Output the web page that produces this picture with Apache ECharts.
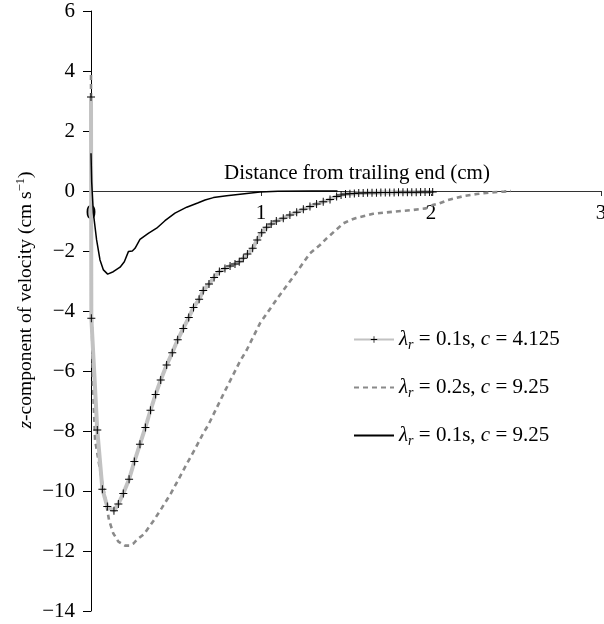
<!DOCTYPE html>
<html><head><meta charset="utf-8">
<script src="https://cdn.jsdelivr.net/npm/echarts@6/dist/echarts.min.js"></script>
<style>html,body{margin:0;padding:0;background:#fff}#c{width:604px;height:624px}</style>
</head><body><div id="c"></div>
<script>
// ---- data ----
const xTicks = [0, 1, 2, 3];
const xTickLabels = ['0', '1', '2', '3'];
const yTicks = [-14, -12, -10, -8, -6, -4, -2, 0, 2, 4, 6];
const yTickLabels = ['\u221214', '\u221212', '\u221210', '\u22128', '\u22126', '\u22124', '\u22122', '0', '2', '4', '6'];
const seriesNames = ['λr = 0.1s, c = 4.125', 'λr = 0.2s, c = 9.25', 'λr = 0.1s, c = 9.25'];
const legendLabels = ['{i|λ}{sub|r} = 0.1s, {i|c} = 4.125', '{i|λ}{sub|r} = 0.2s, {i|c} = 9.25', '{i|λ}{sub|r} = 0.1s, {i|c} = 9.25'];
const xAxisTitle = 'Distance from trailing end (cm)';
const yAxisTitle = '{i|z}-component of velocity (cm s{sup|\u22121})';

// λr = 0.1s, c = 4.125 (grey line with + markers)
const s1 = [
  [0, 3.13], [0.002, -4.24], [0.037, -7.97], [0.067, -9.94], [0.096, -10.52], [0.135, -10.66],
  [0.161, -10.43], [0.19, -10.08], [0.224, -9.61], [0.255, -9.02], [0.288, -8.44], [0.32, -7.88],
  [0.35, -7.31], [0.38, -6.78], [0.41, -6.3], [0.445, -5.8], [0.478, -5.39], [0.51, -4.96],
  [0.543, -4.58], [0.575, -4.22], [0.603, -3.88], [0.636, -3.61], [0.66, -3.32], [0.694, -3.1],
  [0.724, -2.88], [0.755, -2.68], [0.788, -2.58], [0.818, -2.5], [0.847, -2.43], [0.872, -2.36],
  [0.896, -2.24], [0.92, -2.1], [0.951, -1.91], [0.978, -1.63], [1.004, -1.39], [1.033, -1.21],
  [1.06, -1.1], [1.09, -1.0], [1.131, -0.91], [1.17, -0.8], [1.21, -0.71], [1.249, -0.61],
  [1.288, -0.52], [1.327, -0.43], [1.366, -0.36], [1.406, -0.28], [1.445, -0.18], [1.471, -0.13],
  [1.497, -0.1], [1.523, -0.09], [1.549, -0.08], [1.575, -0.07], [1.601, -0.07], [1.627, -0.06],
  [1.653, -0.06], [1.679, -0.06], [1.705, -0.05], [1.731, -0.05], [1.757, -0.05], [1.783, -0.05],
  [1.809, -0.04], [1.835, -0.04], [1.861, -0.04], [1.887, -0.04], [1.913, -0.04], [1.939, -0.03],
  [1.965, -0.03], [1.991, -0.03], [2.01, -0.03]
];
// λr = 0.2s, c = 9.25 (grey dashed)
const s2 = [
  [0, 3.87], [0.004, -4.0], [0.012, -6.5], [0.024, -8.3], [0.063, -9.63], [0.086, -10.3],
  [0.106, -10.97], [0.131, -11.41], [0.161, -11.69], [0.2, -11.82], [0.225, -11.82], [0.25, -11.75],
  [0.274, -11.6], [0.31, -11.45], [0.367, -11.0], [0.416, -10.57], [0.47, -10.08], [0.514, -9.62],
  [0.563, -9.1], [0.612, -8.6], [0.66, -8.08], [0.69, -7.8], [0.778, -6.78], [0.876, -5.68],
  [0.916, -5.3], [0.994, -4.41], [1.1, -3.55], [1.19, -2.86], [1.288, -2.08], [1.347, -1.8],
  [1.386, -1.58], [1.484, -1.08], [1.524, -0.97], [1.56, -0.9], [1.66, -0.76], [1.78, -0.69],
  [1.896, -0.63], [1.97, -0.58], [2.01, -0.47], [2.05, -0.41], [2.1, -0.3], [2.2, -0.16],
  [2.27, -0.1], [2.35, -0.05], [2.43, -0.02], [2.47, 0]
];
// λr = 0.1s, c = 9.25 (black solid)
const s3 = [
  [0, 1.26], [0.004, 0.3], [0.014, -0.74], [0.033, -1.63], [0.053, -2.3], [0.073, -2.63],
  [0.098, -2.77], [0.131, -2.69], [0.171, -2.54], [0.196, -2.36], [0.22, -2.02], [0.243, -2.0],
  [0.259, -1.91], [0.288, -1.61], [0.337, -1.41], [0.386, -1.24], [0.435, -0.99], [0.494, -0.74],
  [0.563, -0.54], [0.631, -0.39], [0.671, -0.3], [0.72, -0.22], [0.798, -0.16], [0.916, -0.08],
  [0.994, -0.03], [1.1, -0.01], [1.3, 0], [1.45, 0]
];

// ---- chart ----
const FONT = 'Liberation Serif';
const plusPath = 'path://M0,4.4H10V5.6H0Z M4.4,0H5.6V10H4.4Z';
const chart = echarts.init(document.getElementById('c'), null, {renderer: 'canvas'});
const gridTop = 11, gridBottom = 13, yMin = -14, yMax = 6;
// place the x axis on the y = 0 line (offset from the grid's bottom edge)
const plotH = 624 - gridTop - gridBottom;
const xAxisOffset = -plotH * (0 - yMin) / (yMax - yMin);
chart.setOption({
  animation: false,
  backgroundColor: '#fff',
  grid: {left: 91, right: 3, top: gridTop, bottom: gridBottom, containLabel: false, outerBoundsMode: 'none'},
  legend: {
    data: [
      {name: seriesNames[0]},
      {name: seriesNames[1], itemStyle: {opacity: 0}},
      {name: seriesNames[2], itemStyle: {opacity: 0}}
    ],
    orient: 'vertical',
    left: 348, top: 324,
    itemWidth: 40, itemHeight: 8, itemGap: 25,
    formatter: name => legendLabels[seriesNames.indexOf(name)],
    textStyle: {
      fontFamily: FONT, fontSize: 21, color: '#000',
      rich: {
        i: {fontFamily: FONT, fontSize: 21, fontStyle: 'italic', color: '#000'},
        sub: {fontFamily: FONT, fontSize: 14, fontStyle: 'italic', color: '#000', padding: [11, 0, 0, 0]}
      }
    }
  },
  xAxis: {
    type: 'value', min: 0, max: 3, interval: 1, position: 'bottom', offset: xAxisOffset,
    name: xAxisTitle, nameLocation: 'middle', nameGap: -28, nameMoveOverlap: false,
    nameTextStyle: {fontFamily: FONT, fontSize: 21, color: '#000', padding: [0, 0, 0, 22]},
    axisLine: {onZero: false, lineStyle: {color: '#333', width: 1}},
    axisTick: {show: true, length: 5, lineStyle: {color: '#333'}},
    axisLabel: {
      margin: 12, fontFamily: FONT, fontSize: 21, color: '#000',
      formatter: v => xTickLabels[xTicks.indexOf(v)]
    },
    splitLine: {show: false}
  },
  yAxis: {
    type: 'value', min: yMin, max: yMax, interval: 2,
    name: yAxisTitle, nameLocation: 'middle', nameGap: 54, nameMoveOverlap: false,
    nameTextStyle: {
      fontFamily: FONT, fontSize: 19.5, color: '#000', padding: [0, 0, 0, 22],
      rich: {
        i: {fontFamily: FONT, fontSize: 19.5, fontStyle: 'italic', color: '#000'},
        sup: {fontFamily: FONT, fontSize: 12.5, color: '#000', padding: [0, 0, 10, 0]}
      }
    },
    axisLine: {show: true, onZero: false, lineStyle: {color: '#000', width: 1}},
    axisTick: {show: true, length: 8, lineStyle: {color: '#000'}},
    axisLabel: {
      margin: 16, fontFamily: FONT, fontSize: 21, color: '#000',
      formatter: v => yTickLabels[yTicks.indexOf(v)]
    },
    splitLine: {show: false}
  },
  series: [
    {
      name: seriesNames[1], type: 'line', data: s2, symbol: 'none',
      lineStyle: {color: '#8a8a8a', width: 2.6, type: [5, 4]}, itemStyle: {color: '#8a8a8a'}
    },
    {
      name: seriesNames[0], type: 'line', data: s1,
      symbol: plusPath, symbolSize: 8, showAllSymbol: true,
      lineStyle: {color: '#c2c2c2', width: 4},
      itemStyle: {color: '#000', borderWidth: 0, borderColor: '#000'}
    },
    {
      name: seriesNames[2], type: 'line', data: s3, symbol: 'none',
      lineStyle: {color: '#000', width: 1.5}, itemStyle: {color: '#000'}
    }
  ]
});
</script>
</body></html>
